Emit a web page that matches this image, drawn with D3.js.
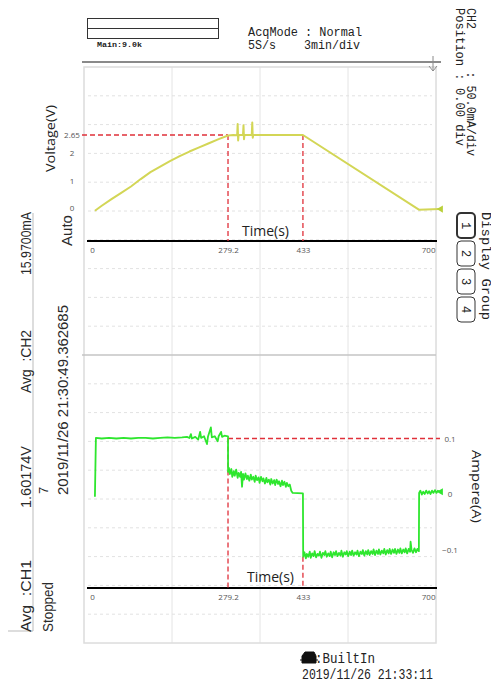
<!DOCTYPE html>
<html>
<head>
<meta charset="utf-8">
<script src="https://cdn.jsdelivr.net/npm/d3@7"></script>
<style>
body { margin: 0; background: #fff; }
svg { display: block; }
.mono { font-family: "Liberation Mono", "DejaVu Sans Mono", monospace; fill: #222; }
.narrow { font-family: "Liberation Sans", Arial, sans-serif; fill: #2a2a2a; }
.xl { font-family: "Open Sans", "Noto Sans", sans-serif; fill: #222; }
.tick text { font-family: "Open Sans", "Noto Sans", sans-serif; font-size: 8px; fill: #555; }
</style>
</head>
<body>
<script>
"use strict";

var timeTicks = [0, 279.2, 433, 700],
    voltTicks = [0, 1, 2, 2.65],
    ampTicks = [-0.1, 0, 0.1],
    switchTimes = [279.2, 433],
    voltLevel = 2.65,
    ampLevel = 0.1,

    // CH1, charge / hold / discharge of the cell (s, V)
    voltage = [
	[6, -0.1], [20, 0.08], [40, 0.32], [60, 0.55], [80, 0.78], [100, 1.05],
	[120, 1.3], [140, 1.5], [160, 1.7], [180, 1.88], [200, 2.05], [220, 2.2],
	[240, 2.35], [260, 2.5], [279.2, 2.63], [290, 2.65], [298, 2.64], [299, 3.05],
	[300, 2.45], [301, 2.66], [310, 2.65], [311, 3.0], [312, 2.5], [313, 2.65],
	[328, 2.66], [329, 3.1], [330, 2.55], [331, 2.65], [433, 2.65], [671, -0.06],
	[714, -0.04]
    ],

    // CH2, current through the cell (s, A)
    current = [
	[6, -0.005], [8, 0.101], [20, 0.100], [35, 0.101], [50, 0.100], [65, 0.101],
	[80, 0.100], [95, 0.101], [110, 0.101], [125, 0.100], [140, 0.101], [155, 0.102],
	[170, 0.101], [185, 0.102], [195, 0.103], [200, 0.101], [203, 0.108], [205, 0.100],
	[212, 0.103], [218, 0.098], [222, 0.112], [224, 0.101], [230, 0.104], [236, 0.090],
	[238, 0.103], [244, 0.120], [246, 0.102], [252, 0.104], [258, 0.095], [260, 0.104],
	[265, 0.112], [267, 0.103], [272, 0.105], [279.2, 0.104],
	[279.3, 0.040], [281, 0.047], [283, 0.036], [286, 0.045], [288, 0.031], [291, 0.041],
	[293, 0.033], [296, 0.044], [299, 0.029], [301, 0.038], [304, 0.031], [306, 0.040],
	[308, 0.013], [310, 0.036], [312, 0.026], [315, 0.037], [318, 0.027], [320, 0.033],
	[323, 0.024], [326, 0.035], [328, 0.026], [331, 0.031], [334, 0.022], [336, 0.033],
	[339, 0.025], [342, 0.030], [344, 0.020], [347, 0.031], [350, 0.023], [352, 0.028],
	[355, 0.019], [358, 0.029], [360, 0.021], [363, 0.026], [366, 0.017], [368, 0.027],
	[371, 0.019], [374, 0.025], [376, 0.016], [379, 0.026], [382, 0.018], [384, 0.023],
	[387, 0.014], [390, 0.024], [392, 0.016], [395, 0.022], [398, 0.013], [400, 0.020],
	[403, 0.014], [406, 0.017], [409, 0.006], [412, 0.002], [433, 0.001],
	[433.5, -0.113], [436, -0.105], [439, -0.116], [441, -0.108], [444, -0.113], [447, -0.104],
	[449, -0.115], [452, -0.107], [455, -0.112], [457, -0.103], [460, -0.114], [463, -0.108],
	[466, -0.111], [468, -0.104], [471, -0.115], [474, -0.106], [477, -0.110], [479, -0.103],
	[482, -0.113], [485, -0.107], [488, -0.112], [490, -0.104], [493, -0.114], [496, -0.105],
	[499, -0.110], [501, -0.103], [504, -0.112], [507, -0.106], [510, -0.111], [512, -0.102],
	[515, -0.113], [518, -0.105], [521, -0.109], [523, -0.103], [526, -0.112], [529, -0.104],
	[532, -0.110], [534, -0.102], [537, -0.111], [540, -0.105], [543, -0.109], [545, -0.102],
	[548, -0.112], [551, -0.104], [554, -0.108], [556, -0.101], [559, -0.111], [562, -0.103],
	[565, -0.109], [567, -0.101], [570, -0.110], [573, -0.103], [576, -0.108], [578, -0.100],
	[581, -0.110], [584, -0.102], [587, -0.108], [589, -0.100], [592, -0.109], [595, -0.102],
	[598, -0.107], [600, -0.099], [603, -0.109], [606, -0.101], [609, -0.107], [611, -0.099],
	[614, -0.108], [617, -0.100], [620, -0.106], [622, -0.099], [625, -0.108], [628, -0.100],
	[631, -0.106], [633, -0.098], [636, -0.107], [639, -0.100], [642, -0.105], [644, -0.098],
	[647, -0.107], [650, -0.099], [653, -0.104], [654, -0.086], [656, -0.101], [659, -0.106],
	[662, -0.098], [665, -0.105], [668, -0.099], [671, -0.103],
	[671.5, 0.002], [674, 0.006], [677, -0.001], [680, 0.004], [683, 0.000], [686, 0.006],
	[689, 0.001], [692, 0.005], [695, 0.000], [698, 0.006], [701, 0.002], [704, 0.007],
	[707, 0.002], [710, 0.006], [714, 0.004]
    ],

    width = 491,
    height = 683,
    gridLeft = 84,
    gridRight = 436,
    gridTop = 67,
    gridMid = 355,
    gridBottom = 643,
    upperAxisY = 241,
    lowerAxisY = 588,

    voltColour = "#d3d656",
    ampColour = "#2ee62e",
    markColour = "#e0303a";

var svg = d3.select("body").append("svg")
	.attr("width", width)
	.attr("height", height);

svg.append("rect")
    .attr("width", width)
    .attr("height", height)
    .attr("fill", "#fff");

var x = d3.scaleLinear().domain([0, 700]).range([92, 433]),
    yV = d3.scaleLinear().domain([0, voltLevel]).range([208, 135]),
    yA = d3.scaleLinear().domain([-ampLevel, ampLevel]).range([549.5, 438.5]);

/*
 Text written at an angle: -90 reads bottom to top, 90 reads top to bottom.
 */
var rotText = function(px, py, angle, str, cls, size, len) {
    var t = svg.append("text")
	    .attr("class", cls)
	    .attr("transform", "translate(" + px + "," + py + ") rotate(" + angle + ")")
	    .attr("font-size", size)
	    .attr("xml:space", "preserve")
	    .text(str);
    if (len) {
	t.attr("textLength", len).attr("lengthAdjust", "spacingAndGlyphs");
    }
    return t;
};

var flatText = function(px, py, str, cls, size, len) {
    var t = svg.append("text")
	    .attr("class", cls)
	    .attr("x", px)
	    .attr("y", py)
	    .attr("font-size", size)
	    .attr("xml:space", "preserve")
	    .text(str);
    if (len) {
	t.attr("textLength", len).attr("lengthAdjust", "spacingAndGlyphs");
    }
    return t;
};

// scope graticule
var grid = svg.append("g");

var divX = (gridRight - gridLeft) / 4;
grid.selectAll("line.vdiv")
    .data(d3.range(1, 4))
    .enter().append("line")
    .attr("x1", function(i) { return gridLeft + i * divX; })
    .attr("x2", function(i) { return gridLeft + i * divX; })
    .attr("y1", gridTop)
    .attr("y2", gridBottom)
    .attr("stroke", "#e4e4e4");

var rows = [];
[[gridTop, gridMid], [gridMid, gridBottom]].forEach(function(half) {
    var step = (half[1] - half[0]) / 10;
    d3.range(1, 10).forEach(function(i) {
	rows.push(half[0] + i * step);
    });
});

grid.selectAll("line.hdiv")
    .data(rows)
    .enter().append("line")
    .attr("x1", gridLeft + 4)
    .attr("x2", gridRight - 4)
    .attr("y1", function(d) { return d; })
    .attr("y2", function(d) { return d; })
    .attr("stroke", "#e2e2e2")
    .attr("stroke-dasharray", "3,3");

grid.append("rect")
    .attr("x", gridLeft)
    .attr("y", gridTop)
    .attr("width", gridRight - gridLeft)
    .attr("height", gridBottom - gridTop)
    .attr("fill", "none")
    .attr("stroke", "#dcdcdc")
    .attr("stroke-width", 1.5);

grid.append("line")
    .attr("x1", gridLeft - 2).attr("x2", gridRight)
    .attr("y1", gridMid).attr("y2", gridMid)
    .attr("stroke", "#c4c4c4")
    .attr("stroke-width", 1.5);

// time bar above the graticule
svg.append("line")
    .attr("x1", 82).attr("x2", 441)
    .attr("y1", 62).attr("y2", 62)
    .attr("stroke", "#8a8a8a")
    .attr("stroke-width", 2);

svg.append("path")
    .attr("d", "M433,56V71M429,66L433,71L437,66")
    .attr("fill", "none")
    .attr("stroke", "#8a8a8a")
    .attr("stroke-width", 1);

svg.append("rect")
    .attr("x", 87.5).attr("y", 18.5)
    .attr("width", 131).attr("height", 20)
    .attr("fill", "none")
    .attr("stroke", "#333");

svg.append("line")
    .attr("x1", 87.5).attr("x2", 218.5)
    .attr("y1", 28.5).attr("y2", 28.5)
    .attr("stroke", "#333");

flatText(97, 47, "Main:9.0k", "mono", 7, 45).attr("font-weight", "bold");
flatText(248, 36, "AcqMode : Normal", "mono", 12, 114);
flatText(248, 49, "5S/s    3min/div", "mono", 12, 112);

// channel settings on the right
rotText(467, 8, 90, "CH2      : 50.0mA/div", "mono", 12, 148);
rotText(456, 8, 90, "Position : 0.00 div", "mono", 12, 138);
rotText(482, 212, 90, "Display Group", "mono", 12, 108);

var groups = svg.selectAll("g.group")
	.data([1, 2, 3, 4])
	.enter().append("g")
	.attr("class", "group")
	.attr("transform", function(d, i) {
	    return "translate(457," + (213 + i * 28) + ")";
	});

groups.append("rect")
    .attr("width", 18)
    .attr("height", 25)
    .attr("rx", 4)
    .attr("fill", "#fff")
    .attr("stroke", "#333")
    .attr("stroke-width", function(d) { return d === 1 ? 2 : 1; });

groups.append("text")
    .attr("class", "mono")
    .attr("font-size", 12)
    .attr("text-anchor", "middle")
    .attr("dy", "0.35em")
    .attr("transform", "translate(9,12.5) rotate(90)")
    .text(function(d) { return d; });

// measurement panel on the left
svg.append("path")
    .attr("d", "M33,213V631H8")
    .attr("fill", "none")
    .attr("stroke", "#bbb");

rotText(31, 275, -90, "15.9700mA", "narrow", 14, 63);
rotText(31, 393, -90, "Avg  :CH2", "narrow", 14, 63);
rotText(31, 508, -90, "1.60174V", "narrow", 14, 62);
rotText(31, 632, -90, "Avg  :CH1", "narrow", 14, 72);
rotText(72, 246, -90, "Auto", "narrow", 14, 31);
rotText(48, 494, -90, "7", "narrow", 13);
rotText(68, 495, -90, "2019/11/26 21:30:49.362685", "narrow", 14, 190);
rotText(53, 632, -90, "Stopped", "narrow", 14, 50);

// upper chart: voltage
var upper = svg.append("g");

upper.append("g")
    .attr("transform", "translate(0," + upperAxisY + ")")
    .call(d3.axisBottom(x).tickValues(timeTicks).tickSize(0).tickPadding(6)
	  .tickFormat(d3.format("~g")))
    .call(function(g) {
	g.select(".domain").remove();
	g.selectAll(".tick:last-of-type text").attr("text-anchor", "end").attr("dx", 2);
    });

upper.append("line")
    .attr("x1", x.range()[0] - 5).attr("x2", x.range()[1] + 4)
    .attr("y1", upperAxisY).attr("y2", upperAxisY)
    .attr("stroke", "#000")
    .attr("stroke-width", 2);

upper.append("g")
    .attr("transform", "translate(80,0)")
    .call(d3.axisLeft(yV).tickValues(voltTicks).tickSize(0).tickFormat(d3.format("~g")))
    .call(function(g) {
	g.select(".domain").remove();
	g.selectAll(".tick text").attr("text-anchor", "middle").attr("x", -8);
    });

var dashed = function(g, x1, y1, x2, y2) {
    g.append("line")
	.attr("x1", x1).attr("y1", y1)
	.attr("x2", x2).attr("y2", y2)
	.attr("stroke", markColour)
	.attr("stroke-width", 1.3)
	.attr("stroke-dasharray", "5,3");
};

dashed(upper, 82, yV(voltLevel), x(switchTimes[0]), yV(voltLevel));
dashed(upper, x(switchTimes[0]), yV(voltLevel), x(switchTimes[0]), upperAxisY);
dashed(upper, x(switchTimes[1]), yV(voltLevel), x(switchTimes[1]), upperAxisY);

upper.append("path")
    .datum(voltage)
    .attr("fill", "none")
    .attr("stroke", voltColour)
    .attr("stroke-width", 2)
    .attr("stroke-linejoin", "round")
    .attr("d", d3.line()
	  .x(function(d) { return x(d[0]); })
	  .y(function(d) { return yV(d[1]); }));

var endMark = function(g, last, yScale, colour) {
    g.append("path")
	.attr("d", d3.symbol(d3.symbolTriangle, 22)())
	.attr("transform", "translate(" + (x(last[0]) + 1) + "," + yScale(last[1]) + ") rotate(-90)")
	.attr("fill", colour);
};

endMark(upper, voltage[voltage.length - 1], yV, "#b9d03a");

rotText(55, 172, -90, "Voltage(V)", "xl", 13, 67);
flatText(242, 236, "Time(s)", "xl", 14);

// lower chart: current
var lower = svg.append("g");

lower.append("g")
    .attr("transform", "translate(0," + lowerAxisY + ")")
    .call(d3.axisBottom(x).tickValues(timeTicks).tickSize(0).tickPadding(6)
	  .tickFormat(d3.format("~g")))
    .call(function(g) {
	g.select(".domain").remove();
	g.selectAll(".tick:last-of-type text").attr("text-anchor", "end").attr("dx", 2);
    });

lower.append("line")
    .attr("x1", x.range()[0] - 5).attr("x2", x.range()[1] + 4)
    .attr("y1", lowerAxisY).attr("y2", lowerAxisY)
    .attr("stroke", "#000")
    .attr("stroke-width", 2);

lower.append("g")
    .attr("transform", "translate(450,0)")
    .call(d3.axisRight(yA).tickValues(ampTicks).tickSize(0).tickFormat(d3.format("~g")))
    .call(function(g) {
	g.select(".domain").remove();
	g.selectAll(".tick text").attr("text-anchor", "middle").attr("x", 0);
    });

var lowLevel = current.filter(function(d) {
    return d[0] >= switchTimes[1] && d[1] < -ampLevel / 2;
})[0][1];

dashed(lower, x(switchTimes[0]), yA(ampLevel), x(switchTimes[0]), lowerAxisY);
dashed(lower, x(switchTimes[0]), yA(ampLevel), 440, yA(ampLevel));
dashed(lower, x(switchTimes[1]), yA(lowLevel), x(switchTimes[1]), lowerAxisY);

lower.append("path")
    .datum(current)
    .attr("fill", "none")
    .attr("stroke", ampColour)
    .attr("stroke-width", 1.8)
    .attr("stroke-linejoin", "round")
    .attr("d", d3.line()
	  .x(function(d) { return x(d[0]); })
	  .y(function(d) { return yA(d[1]); }));

endMark(lower, current[current.length - 1], yA, ampColour);

rotText(472, 450, 90, "Ampere(A)", "xl", 13, 73);
flatText(247, 582, "Time(s)", "xl", 14);

// footer
svg.append("path")
    .attr("d", "M305,652L314,652L316,656L316,663L302,663L302,656Z M300,660H318")
    .attr("fill", "#111")
    .attr("stroke", "#111")
    .attr("stroke-width", 1);

flatText(315, 663, ":BuiltIn", "mono", 14, 60);
flatText(302, 679, "2019/11/26 21:33:11", "mono", 14, 131);
</script>
</body>
</html>
